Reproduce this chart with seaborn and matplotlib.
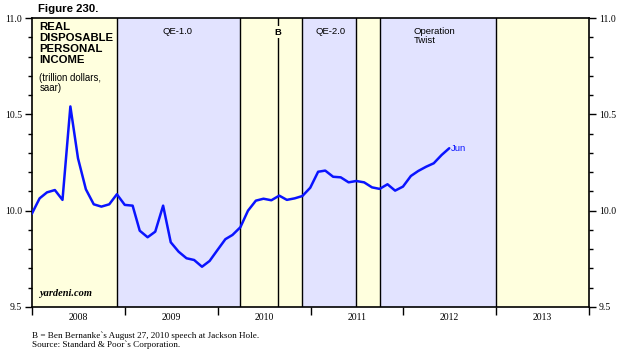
import numpy as np
import pandas as pd
import matplotlib
matplotlib.use("Agg")
import matplotlib.pyplot as plt
import matplotlib.dates as mdates
import seaborn as sns

# monthly real disposable personal income, trillion dollars (saar), Dec 2007 - Jun 2012
values = [9.983, 10.064, 10.095, 10.107, 10.056, 10.541, 10.272, 10.111, 10.033, 10.021,
          10.033, 10.085, 10.030, 10.026, 9.896, 9.862, 9.891, 10.026, 9.836, 9.787,
          9.753, 9.744, 9.709, 9.739, 9.796, 9.852, 9.874, 9.914, 10.000, 10.052,
          10.062, 10.054, 10.078, 10.056, 10.064, 10.076, 10.119, 10.202, 10.208, 10.176,
          10.173, 10.147, 10.154, 10.147, 10.121, 10.113, 10.137, 10.104, 10.125, 10.180,
          10.206, 10.228, 10.246, 10.289, 10.324]
first_month = "2007-12-31"
last_label = "Jun"

# policy periods (start, end, shade)
periods = [
    ("2008-01-01", "2008-11-30", "yellow"),
    ("2008-11-30", "2010-03-31", "blue"),
    ("2010-03-31", "2010-11-30", "yellow"),
    ("2010-11-30", "2011-06-30", "blue"),
    ("2011-06-30", "2011-09-30", "yellow"),
    ("2011-09-30", "2012-12-31", "blue"),
    ("2012-12-31", "2014-01-01", "yellow"),
]
period_labels = [("QE-1.0", "2009-07-25"), ("QE-2.0", "2011-03-20")]
twist_label = ("Operation\nTwist", "2012-02-12")
bernanke_date = "2010-08-27"
years = [2008, 2009, 2010, 2011, 2012, 2013]

df = pd.DataFrame({
    "date": pd.date_range(first_month, periods=len(values), freq="ME"),
    "rdpi": values,
})

sns.set_theme(style="white")
plt.rcParams["font.family"] = ["Liberation Sans", "DejaVu Sans"]
plt.rcParams["text.color"] = "black"
plt.rcParams["xtick.color"] = "black"
plt.rcParams["ytick.color"] = "black"

fig = plt.figure(figsize=(6.27, 3.54), dpi=100)
ax = fig.add_axes([32 / 627, 1 - 307 / 354, 557 / 627, 289 / 354])

shade = {"yellow": "#ffffde", "blue": "#e2e3ff"}
for start, end, c in periods:
    ax.axvspan(pd.Timestamp(start), pd.Timestamp(end), color=shade[c], lw=0, zorder=0)
for start, end, c in periods[1:]:
    ax.axvline(pd.Timestamp(start), color="black", lw=1.0, zorder=1)
ax.axvline(pd.Timestamp(bernanke_date), color="black", lw=1.0, zorder=1)

sns.lineplot(data=df, x="date", y="rdpi", ax=ax, color="#0a14ff", lw=1.8, zorder=3)

ax.set_xlim(pd.Timestamp("2008-01-01"), pd.Timestamp("2014-01-01"))
ax.set_ylim(9.5, 11.0)
ax.set_xlabel("")
ax.set_ylabel("")

# x axis: year boundaries as ticks, year names centred
ax.xaxis.set_major_locator(mdates.YearLocator())
ax.xaxis.set_major_formatter(plt.NullFormatter())
ax.xaxis.set_minor_locator(plt.FixedLocator([mdates.date2num(pd.Timestamp(f"{y}-07-02")) for y in years]))
ax.xaxis.set_minor_formatter(plt.FixedFormatter([str(y) for y in years]))
ax.tick_params(axis="x", which="major", direction="out", length=5.5, width=1.0, bottom=True, top=False)
ax.tick_params(axis="x", which="minor", length=0, labelsize=7, pad=4)

ax.yaxis.set_major_locator(plt.MultipleLocator(0.5))
ax.yaxis.set_minor_locator(plt.MultipleLocator(0.1))
ax.yaxis.set_major_formatter(plt.FormatStrFormatter("%.1f"))
ax.tick_params(axis="y", which="both", direction="out", left=True, right=True,
               labelleft=True, labelright=True, width=1.0, labelsize=7, pad=2)
ax.tick_params(axis="y", which="major", length=5)
ax.tick_params(axis="y", which="minor", length=3)
for lab in ax.get_xticklabels(minor=True) + ax.get_yticklabels():
    lab.set_family("Liberation Serif")

for sp in ax.spines.values():
    sp.set_color("black")
    sp.set_linewidth(1.2)
ax.grid(False)

# annotations
fig.text(38 / 627, 1 - 9 / 354, "Figure 230.", fontsize=8.2, fontweight="bold", va="center")
ax.text(0.013, 0.985, "REAL\nDISPOSABLE\nPERSONAL\nINCOME", transform=ax.transAxes,
        fontsize=8.2, fontweight="bold", va="top", ha="left", linespacing=1.12)
ax.text(0.013, 0.81, "(trillion dollars,\nsaar)", transform=ax.transAxes,
        fontsize=6.9, va="top", ha="left", linespacing=0.95)
for lab, d in period_labels:
    ax.text(pd.Timestamp(d), 10.955, lab, fontsize=6.8, ha="center", va="top")
ax.text(pd.Timestamp(twist_label[1]), 10.955, twist_label[0], fontsize=6.8,
        ha="left", va="top", linespacing=1.0)
ax.text(pd.Timestamp(bernanke_date), 10.95, "B", fontsize=6.8, fontweight="bold",
        ha="center", va="top", zorder=2,
        bbox=dict(boxstyle="square,pad=0.15", fc=shade["yellow"], ec="none"))
ax.text(df["date"].iloc[-1] + pd.Timedelta(days=8), df["rdpi"].iloc[-1], last_label,
        color="#0a14ff", fontsize=6.8, ha="left", va="center")
ax.text(0.012, 0.03, "yardeni.com", transform=ax.transAxes, fontsize=7.5,
        family="Liberation Serif", fontweight="bold", style="italic", ha="left", va="bottom")

fig.text(32 / 627, 1 - 336 / 354, "B = Ben Bernanke`s August 27, 2010 speech at Jackson Hole.",
         fontsize=6.6, family="Liberation Serif", va="center")
fig.text(32 / 627, 1 - 345 / 354, "Source: Standard & Poor`s Corporation.",
         fontsize=6.6, family="Liberation Serif", va="center")

fig.savefig("out.png", dpi=100)
